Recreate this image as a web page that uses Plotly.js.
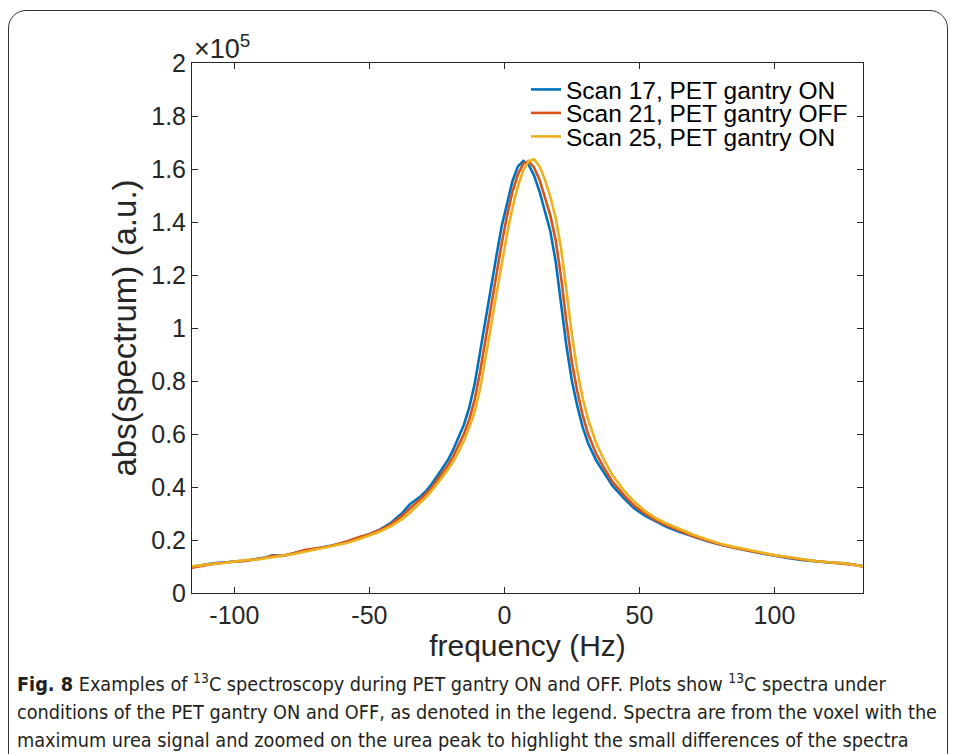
<!DOCTYPE html>
<html>
<head>
<meta charset="utf-8">
<script src="https://cdn.plot.ly/plotly-3.0.1.min.js"></script>
<style>
  html, body { margin: 0; padding: 0; background: #fff; }
  #wrap { position: relative; width: 956px; height: 754px; overflow: hidden; }
  #frame { position: absolute; left: 8px; top: 10px; width: 940px; height: 800px;
           border: 1.6px solid #333; border-radius: 18px 18px 0 0; box-sizing: border-box; }
  #chart { position: absolute; left: 0; top: 0; width: 956px; height: 754px; }
</style>
</head>
<body>
<div id="wrap">
  <div id="frame"></div>
  <div id="chart"></div>
</div>
<script>
// frequency axis (Hz)
const freq = [-116,-112,-108,-104,-100,-96,-92,-88,-86,-84,-82,-78,-74,-70,-66,-62,-58,-54,-50,-46,-42,-38,-35,-33,-31,-29,-27,-25,-23,-21,-19,-17,-15,-13,-11,-9,-7,-5,-3,-1,1,3,5,7,9,11,13,15,17,19,21,23,25,27,29,31,34,37,40,44,48,52,56,60,65,70,75,80,85,90,95,100,105,110,115,120,125,129,133];

// abs(spectrum) in units of 1e5 (a.u.)
const scan17 = [0.098,0.105,0.112,0.115,0.118,0.122,0.128,0.135,0.142,0.142,0.140,0.150,0.160,0.167,0.175,0.183,0.195,0.208,0.222,0.240,0.265,0.300,0.335,0.350,0.365,0.385,0.410,0.440,0.470,0.500,0.540,0.585,0.635,0.700,0.790,0.910,1.035,1.150,1.270,1.385,1.475,1.555,1.610,1.630,1.615,1.575,1.515,1.445,1.365,1.250,1.095,0.930,0.800,0.705,0.625,0.565,0.500,0.450,0.405,0.360,0.320,0.292,0.270,0.250,0.230,0.212,0.196,0.182,0.170,0.160,0.150,0.140,0.132,0.125,0.119,0.115,0.113,0.108,0.100];

const scan21 = [0.095,0.102,0.110,0.114,0.119,0.121,0.127,0.134,0.140,0.141,0.141,0.150,0.162,0.168,0.174,0.184,0.195,0.210,0.222,0.238,0.260,0.290,0.320,0.338,0.355,0.375,0.397,0.425,0.452,0.480,0.515,0.555,0.600,0.655,0.730,0.835,0.960,1.085,1.205,1.320,1.425,1.515,1.580,1.620,1.630,1.605,1.560,1.495,1.425,1.330,1.190,1.020,0.870,0.760,0.670,0.600,0.525,0.470,0.420,0.372,0.330,0.300,0.275,0.255,0.233,0.214,0.198,0.183,0.171,0.160,0.151,0.142,0.134,0.127,0.121,0.116,0.112,0.107,0.100];

const scan25 = [0.100,0.106,0.110,0.113,0.118,0.124,0.126,0.132,0.136,0.138,0.140,0.147,0.156,0.164,0.172,0.180,0.190,0.203,0.217,0.232,0.252,0.278,0.303,0.322,0.342,0.362,0.385,0.410,0.437,0.465,0.495,0.532,0.575,0.625,0.685,0.770,0.880,1.005,1.125,1.245,1.355,1.455,1.535,1.595,1.630,1.637,1.610,1.560,1.495,1.415,1.300,1.140,0.975,0.840,0.735,0.655,0.565,0.500,0.445,0.390,0.345,0.310,0.283,0.262,0.240,0.220,0.202,0.186,0.174,0.164,0.153,0.143,0.136,0.128,0.121,0.116,0.113,0.107,0.100];

const seriesNames = ["Scan 17, PET gantry ON", "Scan 21, PET gantry OFF", "Scan 25, PET gantry ON"];
const seriesColors = ["#0072BD", "#D95319", "#EDB120"];
const xTickVals = [-100, -50, 0, 50, 100];
const xTickText = ["-100", "-50", "0", "50", "100"];

const captionLines = [
  "<b>Fig. 8</b> Examples of <sup>13</sup>C spectroscopy during PET gantry ON and OFF. Plots show <sup>13</sup>C spectra under",
  "conditions of the PET gantry ON and OFF, as denoted in the legend. Spectra are from the voxel with the",
  "maximum urea signal and zoomed on the urea peak to highlight the small differences of the spectra"
];

const allY = [scan17, scan21, scan25];
const traces = allY.map((y, i) => ({
  x: freq, y: y, type: "scatter", mode: "lines", name: seriesNames[i],
  line: { color: seriesColors[i], width: 2.6 }
}));

const W = 956, H = 754;
const L = 192, R = 863, T = 63, B = 593;
const px = v => (v - L) / (R - L);
const py = v => (B - v) / (B - T);

const fam = "Liberation Sans, Arial, Helvetica, sans-serif";
const axisFont = { family: fam, size: 25, color: "#262626" };
const capFont = { family: "Liberation Sans Narrow, DejaVu Sans Condensed, Arial Narrow, sans-serif", size: 19.7, color: "#231f20" };

const annotations = [
  { xref: "paper", yref: "paper", x: px(192), y: py(47), xanchor: "left", yanchor: "middle",
    text: "×10<sup>5</sup>", showarrow: false, font: { family: fam, size: 27, color: "#262626" } }
];
const capY = [683, 712, 740];
captionLines.forEach((t, i) => annotations.push({
  xref: "paper", yref: "paper", x: px(15), y: py(capY[i]), xanchor: "left", yanchor: "middle",
  text: t, showarrow: false, font: capFont, align: "left"
}));

const layout = {
  width: W, height: H,
  margin: { l: L, r: W - R, t: T, b: H - B },
  paper_bgcolor: "rgba(0,0,0,0)", plot_bgcolor: "#fff",
  showlegend: true,
  legend: { x: px(526), y: py(67), xanchor: "left", yanchor: "top",
            bgcolor: "rgba(255,255,255,0)", borderwidth: 0,
            font: { family: fam, size: 24.5, color: "#000" } },
  xaxis: {
    range: [-115.7, 132.8], tickvals: xTickVals, ticktext: xTickText,
    ticks: "inside", ticklen: 6, tickwidth: 1, tickcolor: "#262626",
    showline: true, linecolor: "#262626", linewidth: 1, mirror: "ticks",
    showgrid: false, zeroline: false, tickfont: axisFont,
    title: { text: "frequency (Hz)", font: { family: fam, size: 30, color: "#262626" }, standoff: 6 }
  },
  yaxis: {
    range: [0, 2], dtick: 0.2, tick0: 0,
    ticks: "inside", ticklen: 6, tickwidth: 1, tickcolor: "#262626",
    showline: true, linecolor: "#262626", linewidth: 1, mirror: "ticks",
    showgrid: false, zeroline: false, tickfont: axisFont,
    title: { text: "abs(spectrum) (a.u.)", font: { family: fam, size: 33, color: "#262626" }, standoff: 4 }
  },
  annotations: annotations
};

Plotly.newPlot("chart", traces, layout, { displayModeBar: false, staticPlot: true }).then(gd => {
  // tighten legend row spacing to match the reference (rows ~23.5 px apart)
  const items = gd.querySelectorAll(".legend .traces");
  if (!items.length) return;
  const m = /translate\(\s*([-\d.]+)[ ,]+([-\d.]+)/.exec(items[0].getAttribute("transform") || "");
  const x0 = m ? parseFloat(m[1]) : 0;
  const y0 = m ? parseFloat(m[2]) : 0;
  items.forEach((el, i) => el.setAttribute("transform", `translate(${x0},${y0 + i * 23.5})`));
});
</script>
</body>
</html>
